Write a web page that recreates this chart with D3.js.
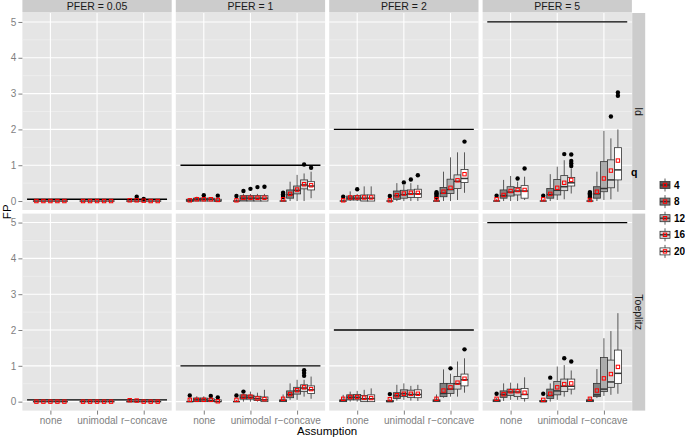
<!DOCTYPE html>
<html><head><meta charset="utf-8">
<script src="https://cdn.jsdelivr.net/npm/d3@7"></script>
<style>body{margin:0;background:#fff} text{font-family:"Liberation Sans",Arial,sans-serif}</style>
</head><body><svg id="c" width="685" height="437"></svg>
<script>
const pferLevels = [0.05, 1, 2, 5];
const pferLabels = ["PFER = 0.05", "PFER = 1", "PFER = 2", "PFER = 5"];
const covLevels = ["Id", "Toeplitz"];
const assumptions = ["none", "unimodal", "r\u2212concave"];
const qLevels = [4, 8, 12, 16, 20];
const yTicks = [0, 1, 2, 3, 4, 5];

// rows: [lowerWhisker, Q1, median, Q3, upperWhisker, mean, outliers]; order: assumption (none, unimodal, r-concave) x q (4..20)
const id_pfer005 = [
  [0,0,0,0,0,0,[]],[0,0,0,0,0,0,[]],[0,0,0,0,0,0,[]],[0,0,0,0,0,0,[]],[0,0,0,0,0,0,[]],
  [0,0,0,0,0,0,[]],[0,0,0,0,0,0,[]],[0,0,0,0,0,0,[]],[0,0,0,0,0,0,[]],[0,0,0,0,0,0,[]],
  [0,0,0,0,0,0.02,[]],[0,0,0,0,0,0.02,[0.12]],[0,0,0,0,0,0.01,[0.06]],[0,0,0,0,0,0,[]],[0,0,0,0,0,0,[]]
];
const id_pfer1 = [
  [0,0,0,0.05,0.08,0.02,[]],[0,0,0.05,0.08,0.12,0.05,[]],[0,0,0.05,0.08,0.1,0.05,[0.16]],[0,0,0.05,0.08,0.1,0.05,[]],[0,0,0,0.05,0.08,0.03,[0.15]],
  [0,0,0,0,0.05,0.02,[0.14]],[0,0,0.08,0.15,0.2,0.09,[0.28]],[0,0,0.08,0.15,0.2,0.09,[0.34]],[0,0,0.08,0.15,0.2,0.09,[0.39]],[0,0,0.08,0.15,0.2,0.09,[0.4]],
  [0,0,0,0,0.05,0.05,[0.11,0.15,0.19,0.23]],[0,0.08,0.18,0.31,0.54,0.2,[]],[0,0.2,0.3,0.42,0.73,0.32,[]],[0,0.34,0.45,0.59,0.77,0.47,[1.02]],[0.08,0.31,0.42,0.54,0.82,0.44,[0.93]]
];
const id_pfer2 = [
  [0,0,0,0,0.05,0.02,[0.12]],[0,0.03,0.08,0.14,0.27,0.1,[]],[0,0.03,0.08,0.15,0.2,0.1,[0.33]],[0,0,0.08,0.17,0.41,0.1,[]],[0,0,0.08,0.17,0.41,0.1,[]],
  [0,0,0,0,0.05,0.02,[0.14]],[0,0.05,0.15,0.28,0.5,0.16,[]],[0,0.08,0.18,0.3,0.45,0.21,[0.52]],[0,0.1,0.2,0.31,0.5,0.23,[0.6]],[0,0.1,0.2,0.33,0.45,0.23,[0.72]],
  [0,0,0,0,0.05,0.05,[0.1,0.14,0.18,0.22,0.25]],[0,0.12,0.22,0.38,0.82,0.26,[]],[0,0.21,0.32,0.61,1.22,0.37,[]],[0.03,0.35,0.55,0.73,1.36,0.58,[]],[0.23,0.52,0.63,0.88,1.36,0.75,[1.66]]
];
const id_pfer5 = [
  [0,0,0,0,0.05,0.05,[0.15]],[0,0.08,0.15,0.31,0.59,0.17,[]],[0,0.14,0.25,0.4,0.7,0.28,[]],[0,0.17,0.28,0.38,0.54,0.31,[0.63]],[0.03,0.08,0.28,0.43,0.68,0.31,[0.91]],
  [0,0,0,0,0.05,0.05,[0.15]],[0,0.08,0.18,0.35,0.75,0.2,[]],[0.03,0.17,0.3,0.6,0.96,0.37,[]],[0.05,0.29,0.4,0.71,1.14,0.51,[1.31]],[0.21,0.42,0.51,0.66,0.91,0.59,[0.98,1.05,1.12,1.3]],
  [0,0,0,0,0.05,0.03,[0.1,0.14,0.18,0.22,0.25]],[0,0.08,0.2,0.4,0.82,0.26,[]],[0.03,0.26,0.35,1.1,1.96,0.63,[]],[0.05,0.37,0.59,1.15,1.75,0.85,[2.36]],[0.26,0.59,0.87,1.49,2.0,1.13,[2.94,3.03]]
];
const toep_pfer005 = [
  [0,0,0,0,0,0,[]],[0,0,0,0,0,0,[]],[0,0,0,0,0,0,[]],[0,0,0,0,0,0,[]],[0,0,0,0,0,0,[]],
  [0,0,0,0,0,0,[]],[0,0,0,0,0,0,[]],[0,0,0,0,0,0,[]],[0,0,0,0,0,0,[]],[0,0,0,0,0,0,[]],
  [0,0,0,0,0.1,0.04,[]],[0,0,0,0,0,0.03,[]],[0,0,0,0,0,0,[]],[0,0,0,0,0,0,[]],[0,0,0,0,0,0,[]]
];
const toep_pfer1 = [
  [0,0,0,0,0.08,0.05,[0.17]],[0,0,0.05,0.1,0.15,0.05,[]],[0,0,0.05,0.1,0.15,0.05,[]],[0,0,0.03,0.08,0.12,0.05,[0.16]],[0,0,0,0.05,0.08,0.01,[0.12]],
  [0,0,0,0,0.05,0.05,[0.17]],[0,0.07,0.12,0.19,0.22,0.14,[0.28]],[0,0.07,0.12,0.18,0.28,0.14,[]],[0,0.03,0.08,0.15,0.25,0.09,[]],[0,0,0.05,0.13,0.33,0.07,[]],
  [0,0,0.03,0.05,0.2,0.08,[]],[0.05,0.11,0.2,0.3,0.51,0.21,[]],[0.05,0.21,0.3,0.4,0.61,0.32,[]],[0.14,0.28,0.38,0.47,0.61,0.4,[0.72,0.8,0.88]],[0.08,0.23,0.33,0.44,0.7,0.35,[]]
];
const toep_pfer2 = [
  [0,0,0.03,0.05,0.19,0.08,[]],[0,0.05,0.12,0.19,0.28,0.13,[]],[0,0.05,0.12,0.2,0.3,0.13,[]],[0,0,0.08,0.17,0.33,0.11,[]],[0,0,0.08,0.19,0.37,0.1,[]],
  [0,0,0,0.03,0.08,0.07,[0.21]],[0.03,0.09,0.17,0.25,0.47,0.18,[]],[0.05,0.14,0.22,0.33,0.51,0.22,[]],[0.03,0.12,0.2,0.32,0.44,0.22,[]],[0.02,0.11,0.2,0.33,0.47,0.22,[]],
  [0,0,0.03,0.05,0.2,0.08,[]],[0.11,0.14,0.23,0.51,0.9,0.31,[]],[0.14,0.23,0.35,0.51,0.78,0.4,[0.93]],[0.14,0.35,0.5,0.7,1.12,0.53,[]],[0.25,0.44,0.61,0.77,1.21,0.64,[1.46]]
];
const toep_pfer5 = [
  [0,0,0.03,0.05,0.1,0.08,[0.22]],[0.02,0.12,0.2,0.3,0.51,0.21,[]],[0.05,0.17,0.27,0.35,0.53,0.29,[]],[0.05,0.14,0.27,0.35,0.51,0.29,[]],[0,0.09,0.2,0.37,0.68,0.25,[]],
  [0,0,0,0.03,0.05,0.05,[0.22]],[0,0.09,0.17,0.35,0.51,0.22,[0.67]],[0.05,0.19,0.3,0.56,0.98,0.4,[]],[0.14,0.28,0.43,0.63,1.02,0.49,[1.21]],[0.2,0.35,0.43,0.63,0.87,0.51,[1.12]],
  [0,0,0.03,0.05,0.12,0.08,[]],[0.1,0.14,0.19,0.51,0.91,0.31,[]],[0.16,0.28,0.35,1.23,1.77,0.65,[]],[0.19,0.4,0.55,1.16,1.97,0.77,[]],[0.22,0.51,0.79,1.44,2.47,0.97,[]]
];

const panelStats = [
  [id_pfer005, id_pfer1, id_pfer2, id_pfer5],
  [toep_pfer005, toep_pfer1, toep_pfer2, toep_pfer5]
];
const fillColors = ["#595959", "#838383", "#acacac", "#d6d6d6", "#ffffff"];

const svg = d3.select("#c");
const L = 22.4, PW = 149.3, GAP = 4.1, T = 13, PH = 197, RGAP = 3.6, STRIP = 13;

const x = d3.scalePoint().domain(assumptions).range([0, PW]).padding(0.6);
const step = x.step();
const dodge = d3.scaleBand().domain(qLevels).range([-0.375 * step, 0.375 * step]);
const bw = dodge.bandwidth();
const y = d3.scaleLinear().domain([-0.25, 5.25]).range([PH, 0]);
const fill = d3.scaleOrdinal().domain(qLevels).range(fillColors);
const BOX = "#333333";

function drawBox(g, cx, s, q, w) {
  const [lo, q1, med, q3, hi, mean, outs] = s;
  g.append("line").attr("x1", cx).attr("x2", cx).attr("y1", y(hi)).attr("y2", y(q3))
    .attr("stroke", BOX).attr("stroke-width", 0.8);
  g.append("line").attr("x1", cx).attr("x2", cx).attr("y1", y(q1)).attr("y2", y(lo))
    .attr("stroke", BOX).attr("stroke-width", 0.8);
  g.append("rect").attr("x", cx - w / 2).attr("width", w).attr("y", y(q3)).attr("height", Math.max(0, y(q1) - y(q3)))
    .attr("fill", fill(q)).attr("stroke", BOX).attr("stroke-width", 0.8);
  g.append("line").attr("x1", cx - w / 2).attr("x2", cx + w / 2).attr("y1", y(med)).attr("y2", y(med))
    .attr("stroke", BOX).attr("stroke-width", 1.5);
  outs.forEach(o => g.append("circle").attr("cx", cx).attr("cy", y(o)).attr("r", 2.2).attr("fill", "#000"));
  g.append("rect").attr("x", cx - 1.7).attr("y", y(mean) - 1.7).attr("width", 3.4).attr("height", 3.4)
    .attr("fill", "none").attr("stroke", "#ff0000").attr("stroke-width", 1);
}

covLevels.forEach((cov, r) => {
  const top = T + r * (PH + RGAP);
  pferLevels.forEach((p, c) => {
    const left = L + c * (PW + GAP);
    const g = svg.append("g").attr("transform", `translate(${left},${top})`);
    g.append("rect").attr("width", PW).attr("height", PH).attr("fill", "#e5e5e5");
    d3.range(0.5, 5, 1).forEach(v => g.append("line").attr("x1", 0).attr("x2", PW).attr("y1", y(v)).attr("y2", y(v))
      .attr("stroke", "#f2f2f2").attr("stroke-width", 0.6));
    yTicks.forEach(v => g.append("line").attr("x1", 0).attr("x2", PW).attr("y1", y(v)).attr("y2", y(v))
      .attr("stroke", "#fff").attr("stroke-width", 1.1));
    assumptions.forEach(a => g.append("line").attr("x1", x(a)).attr("x2", x(a)).attr("y1", 0).attr("y2", PH)
      .attr("stroke", "#fff").attr("stroke-width", 1.1));
    // PFER reference line
    g.append("line").attr("x1", x(assumptions[0]) - step / 2).attr("x2", x(assumptions[2]) + step / 2)
      .attr("y1", y(p)).attr("y2", y(p)).attr("stroke", "#000").attr("stroke-width", 1.3);
    const stats = panelStats[r][c];
    assumptions.forEach((a, ai) => {
      qLevels.forEach((q, qi) => {
        const cx = x(a) + dodge(q) + bw / 2;
        drawBox(g, cx, stats[ai * qLevels.length + qi], q, bw);
      });
    });
    if (r === 0) {
      svg.append("rect").attr("x", left).attr("y", 0).attr("width", PW).attr("height", STRIP - 0.5).attr("fill", "#cccccc");
      svg.append("text").attr("x", left + PW / 2).attr("y", 10).attr("text-anchor", "middle")
        .attr("font-size", 10.5).attr("fill", "#1a1a1a").text(pferLabels[c]);
    }
    if (r === 1) {
      const xa = d3.axisBottom(x).tickSize(4).tickPadding(2);
      const ax = svg.append("g").attr("transform", `translate(${left},${top + PH})`).call(xa);
      ax.select(".domain").remove();
      ax.selectAll(".tick line").attr("stroke", "#7f7f7f");
      ax.selectAll(".tick text").attr("fill", "#7f7f7f").attr("font-size", 10).attr("font-family", "Liberation Sans, Arial, sans-serif");
    }
  });
  // left axis
  const ya = d3.axisLeft(y).tickValues(yTicks).tickFormat(d3.format("d")).tickSize(4).tickPadding(2);
  const ay = svg.append("g").attr("transform", `translate(${L},${top})`).call(ya);
  ay.select(".domain").remove();
  ay.selectAll(".tick line").attr("stroke", "#7f7f7f");
  ay.selectAll(".tick text").attr("fill", "#7f7f7f").attr("font-size", 10).attr("font-family", "Liberation Sans, Arial, sans-serif");
  // right strip
  const sx = L + 4 * PW + 3 * GAP;
  svg.append("rect").attr("x", sx + 0.3).attr("y", top).attr("width", STRIP).attr("height", PH).attr("fill", "#cccccc");
  svg.append("text").attr("transform", `translate(${sx + STRIP / 2 - 3.5},${top + PH / 2}) rotate(90)`)
    .attr("text-anchor", "middle").attr("font-size", 10.5).attr("fill", "#1a1a1a").text(cov);
});

// axis titles
const plotMid = L + (4 * PW + 3 * GAP) / 2;
svg.append("text").attr("x", plotMid).attr("y", 435).attr("text-anchor", "middle").attr("font-size", 11.5).attr("fill", "#000").text("Assumption");
svg.append("text").attr("transform", `translate(11,${T + PH + RGAP / 2}) rotate(-90)`).attr("text-anchor", "middle")
  .attr("font-size", 11.5).attr("fill", "#000").text("FP");

// legend
const lg = svg.append("g");
lg.append("text").attr("x", 631).attr("y", 175.5).attr("font-size", 10.5).attr("font-weight", "bold").text("q");
qLevels.forEach((q, i) => {
  const cy = 185 + i * 16.6, cx = 665;
  lg.append("line").attr("x1", cx).attr("x2", cx).attr("y1", cy - 6.5).attr("y2", cy + 6.5).attr("stroke", BOX).attr("stroke-width", 0.8);
  lg.append("rect").attr("x", cx - 5).attr("y", cy - 3.5).attr("width", 10).attr("height", 7).attr("fill", fill(q)).attr("stroke", BOX).attr("stroke-width", 0.8);
  lg.append("line").attr("x1", cx - 5).attr("x2", cx + 5).attr("y1", cy).attr("y2", cy).attr("stroke", BOX).attr("stroke-width", 1.5);
  lg.append("rect").attr("x", cx - 1.7).attr("y", cy - 1.7).attr("width", 3.4).attr("height", 3.4).attr("fill", "none").attr("stroke", "#ff0000").attr("stroke-width", 1);
  lg.append("text").attr("x", 674).attr("y", cy + 3.6).attr("font-size", 10).attr("font-weight", "bold").attr("fill", "#000").text(q);
});
</script></body></html>
